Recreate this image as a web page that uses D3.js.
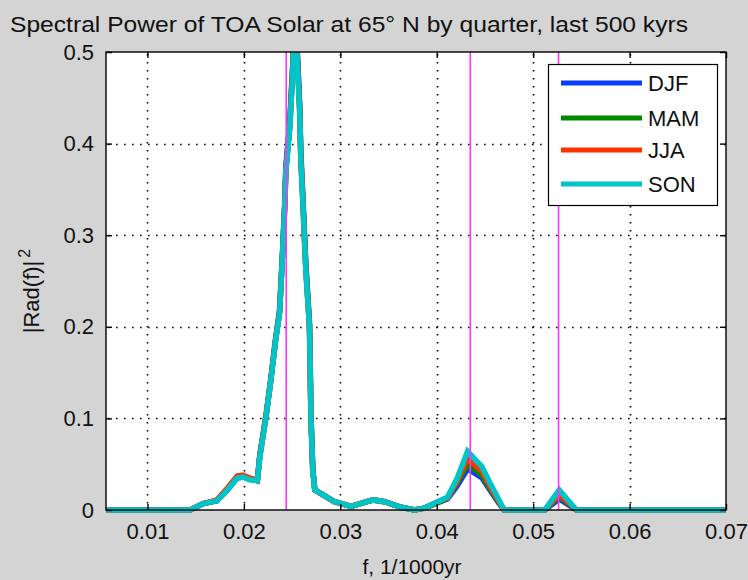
<!DOCTYPE html>
<html><head><meta charset="utf-8">
<script src="https://d3js.org/d3.v7.min.js"></script>
<style>
html,body{margin:0;padding:0;background:#d4d4d4;}
text{font-family:"Liberation Sans",Arial,sans-serif;fill:#111;}
</style></head>
<body>
<svg id="chart" width="748" height="580"></svg>
<script>
const titleText = "Spectral Power of TOA Solar at 65° N by quarter, last 500 kyrs";
const xLabel = "f, 1/1000yr";
const seriesNames = ["DJF","MAM","JJA","SON"];
const seriesColors = ["#0a3cff","#008a00","#ff3300","#00c4c8"];
const xTicks = [0.01,0.02,0.03,0.04,0.05,0.06,0.07];
const yTicks = [0,0.1,0.2,0.3,0.4,0.5];
const orbitalLines = [1/41, 1/23, 1/19];

const freq = [0.0057,0.0144,0.0158,0.0172,0.0183,0.0193,0.0199,0.0206,0.0214,
  0.02165,0.0223,0.0228,0.0233,0.0237,0.0240,0.02424,0.02435,0.02476,0.02507,0.0253,
  0.02559,0.0258,0.0259,0.02611,0.02642,0.0268,0.02688,0.02695,0.02714,0.02735,
  0.0283,0.0294,0.0311,0.0334,0.0346,0.0363,0.0377,0.0387,0.0401,0.0411,0.0421,0.0432,0.0447,0.0455,0.0464,0.0470,0.0512,0.0527,0.0545,0.0700];

const DJF = [0,0,0.007,0.010,0.022,0.035,0.036,0.034,0.033,
  0.060,0.104,0.144,0.188,0.218,0.280,0.336,0.375,0.424,0.488,0.555,
  0.490,0.440,0.392,0.345,0.270,0.206,0.158,0.106,0.046,0.022,
  0.016,0.009,0.004,0.011,0.009,0.003,0,0.002,0.008,0.012,0.026,0.045,0.035,0.022,0.008,0,0,0.012,0,0];
const MAM = [0,0,0.007,0.010,0.023,0.036,0.037,0.034,0.032,
  0.059,0.103,0.143,0.187,0.216,0.278,0.333,0.372,0.420,0.483,0.548,
  0.485,0.435,0.387,0.340,0.265,0.202,0.155,0.104,0.045,0.022,
  0.016,0.009,0.004,0.011,0.009,0.003,0,0.002,0.008,0.013,0.029,0.050,0.038,0.024,0.009,0,0,0.015,0,0];
const JJA = [0,0,0.007,0.011,0.024,0.037,0.038,0.035,0.032,
  0.058,0.102,0.142,0.186,0.215,0.277,0.332,0.370,0.418,0.480,0.545,
  0.482,0.432,0.385,0.338,0.263,0.201,0.154,0.103,0.044,0.022,
  0.016,0.009,0.004,0.011,0.009,0.003,0,0.002,0.009,0.013,0.031,0.056,0.042,0.026,0.010,0,0,0.017,0,0];
const SON = [0,0,0.007,0.010,0.022,0.035,0.036,0.033,0.032,
  0.058,0.102,0.142,0.186,0.215,0.277,0.331,0.369,0.416,0.478,0.540,
  0.478,0.430,0.383,0.336,0.262,0.200,0.153,0.102,0.044,0.022,
  0.016,0.009,0.004,0.011,0.009,0.003,0,0.002,0.009,0.014,0.034,0.064,0.047,0.030,0.012,0,0,0.022,0,0];
const seriesValues = [DJF, MAM, JJA, SON];

const L = 106, R = 726, T = 52, B = 510;
const svg = d3.select("#chart");
const x = d3.scaleLinear().domain([0.0057, 0.07]).range([L, R]);
const y = d3.scaleLinear().domain([0, 0.5]).range([B, T]);

svg.append("rect").attr("x",0).attr("y",0).attr("width",748).attr("height",580).attr("fill","#d4d4d4");
svg.append("rect").attr("x",L).attr("y",T).attr("width",R-L).attr("height",B-T).attr("fill","#fff");

// grid
const grid = svg.append("g").attr("stroke","#000").attr("stroke-width",1.6).attr("stroke-dasharray","1.6,6.4");
grid.selectAll("line.gx").data(xTicks.filter(d=>d<0.07)).enter().append("line")
  .attr("x1",d=>Math.round(x(d))+0.5).attr("x2",d=>Math.round(x(d))+0.5).attr("y1",T+2).attr("y2",B);
grid.selectAll("line.gy").data(yTicks.filter(d=>d>0 && d<0.5)).enter().append("line")
  .attr("y1",d=>Math.round(y(d))+0.5).attr("y2",d=>Math.round(y(d))+0.5).attr("x1",L+2).attr("x2",R);

svg.append("defs").append("clipPath").attr("id","clip").append("rect")
  .attr("x",L-2).attr("y",T).attr("width",R-L+4).attr("height",B-T+6);

const line = d3.line().x((d,i)=>x(freq[i])).y(d=>y(d));
const dataG = svg.append("g").attr("clip-path","url(#clip)");
seriesValues.forEach((vals,k)=>{
  dataG.append("path").datum(vals).attr("d",line).attr("fill","none")
    .attr("stroke",seriesColors[k]).attr("stroke-width",5.5).attr("stroke-linejoin","miter").attr("stroke-miterlimit",2);
});

svg.append("g").selectAll("line").data(orbitalLines).enter().append("line")
  .attr("x1",d=>x(d)).attr("x2",d=>x(d)).attr("y1",T).attr("y2",B)
  .attr("stroke","#ff33ff").attr("stroke-width",1.6);

svg.append("rect").attr("x",L).attr("y",T).attr("width",R-L).attr("height",B-T)
  .attr("fill","none").attr("stroke","#000").attr("stroke-width",1.4);

const xAxisB = d3.axisBottom(x).tickValues(xTicks).tickSize(-6).tickPadding(13).tickFormat(d3.format(".2f"));
const gxb = svg.append("g").attr("transform",`translate(0,${B})`).call(xAxisB);
gxb.select(".domain").remove();
gxb.selectAll("text").attr("font-size",22).attr("font-family","Liberation Sans, Arial, sans-serif").attr("fill","#111").attr("dy","0.71em");
gxb.selectAll("line").attr("stroke","#000").attr("stroke-width",1.4);

const xAxisT = d3.axisTop(x).tickValues(xTicks).tickSize(-6).tickFormat("");
const gxt = svg.append("g").attr("transform",`translate(0,${T})`).call(xAxisT);
gxt.select(".domain").remove();
gxt.selectAll("line").attr("stroke","#000").attr("stroke-width",1.4);

const yAxisL = d3.axisLeft(y).tickValues(yTicks).tickSize(-6).tickPadding(12).tickFormat(d=>d===0?"0":d3.format(".1f")(d));
const gyl = svg.append("g").attr("transform",`translate(${L},0)`).call(yAxisL);
gyl.select(".domain").remove();
gyl.selectAll("text").attr("font-size",22).attr("font-family","Liberation Sans, Arial, sans-serif").attr("fill","#111");
gyl.selectAll("line").attr("stroke","#000").attr("stroke-width",1.4);

const yAxisR = d3.axisRight(y).tickValues(yTicks).tickSize(-6).tickFormat("");
const gyr = svg.append("g").attr("transform",`translate(${R},0)`).call(yAxisR);
gyr.select(".domain").remove();
gyr.selectAll("line").attr("stroke","#000").attr("stroke-width",1.4);

svg.append("text").attr("x",10).attr("y",32).attr("font-size",22)
  .attr("textLength",678).attr("lengthAdjust","spacingAndGlyphs").text(titleText);

svg.append("text").attr("x",(L+R)/2-4).attr("y",574).attr("text-anchor","middle").attr("font-size",21).text(xLabel);

const yl = svg.append("text").attr("transform",`translate(39,${(T+B)/2+10}) rotate(-90)`)
  .attr("text-anchor","middle").attr("font-size",22);
yl.append("tspan").text("|Rad(f)|");
yl.append("tspan").attr("dy",-9).attr("dx",3).attr("font-size",16).text("2");

const lg = svg.append("g");
lg.append("rect").attr("x",548.5).attr("y",64.5).attr("width",169).attr("height",141)
  .attr("fill","#fff").attr("stroke","#000").attr("stroke-width",1.2);
const legY = [83,118,150,184];
seriesNames.forEach((n,k)=>{
  lg.append("line").attr("x1",561).attr("x2",642).attr("y1",legY[k]).attr("y2",legY[k])
    .attr("stroke",seriesColors[k]).attr("stroke-width",5);
  lg.append("text").attr("x",648).attr("y",legY[k]+8).attr("font-size",22).text(n);
});
</script>
</body></html>
